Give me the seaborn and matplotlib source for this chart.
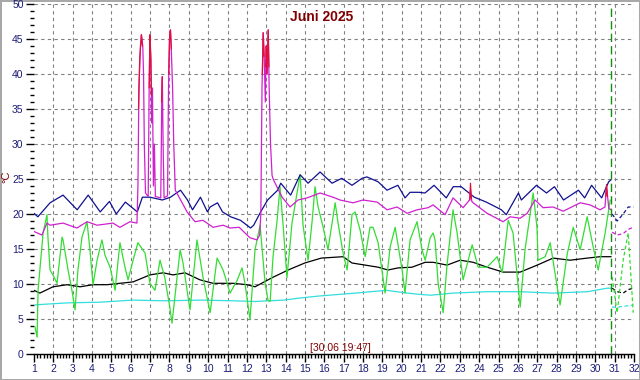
import matplotlib
matplotlib.use("Agg")
import matplotlib.pyplot as plt
import seaborn as sns
import pandas as pd
import numpy as np
from matplotlib.ticker import MultipleLocator

# measured values, day of month (1.0 = 1 June 00:00), degrees C
blue_day = [1.0, 1.2, 1.83, 2.5, 3.23, 3.8, 4.42, 4.9, 5.25, 5.72, 6.34, 6.6, 7.0, 7.63, 8.05, 8.57, 8.93,
            9.19, 9.6, 9.96, 10.1, 10.48, 10.74, 11.16, 11.67, 12.19, 12.35, 12.71, 13.07, 13.59, 13.75, 14.26,
            14.75, 15.16, 15.78, 16.4, 16.9, 17.43, 17.95, 18.2, 18.78, 19.24, 19.8, 20.17, 20.43, 20.9, 21.2,
            21.67, 22.3, 22.66, 23.07, 23.75, 24.37, 25.15, 25.4, 26.03, 26.18, 26.96, 27.48, 27.89, 28.36,
            29.13, 29.45, 29.81, 30.33, 30.69, 30.82]
blue_temp = [20.1, 19.6, 21.6, 22.7, 20.6, 22.7, 20.3, 21.8, 20.0, 21.7, 20.3, 22.4, 22.4, 22.0, 22.4, 23.4, 22.0,
             20.6, 22.4, 20.3, 21.0, 21.6, 20.3, 19.6, 19.1, 18.0, 18.4, 20.3, 22.0, 23.4, 24.4, 22.7,
             25.6, 24.4, 26.0, 24.4, 25.1, 24.1, 25.1, 25.3, 24.6, 23.4, 24.1, 22.3, 23.1, 23.1, 23.0,
             24.1, 22.3, 23.9, 23.9, 22.4, 21.7, 20.6, 19.9, 23.0, 22.0, 24.1, 23.0, 23.9, 22.0,
             23.4, 22.3, 24.1, 22.3, 24.6, 24.9]

magenta_day = [1.0, 1.41, 1.67, 1.83, 2.5, 3.22, 3.74, 4.26, 5.08, 5.44, 5.96, 6.32,
               6.37, 6.42, 6.5, 6.55, 6.62, 6.66, 6.7, 6.76,
               6.9, 6.95, 6.99, 7.04, 7.08, 7.12, 7.17, 7.22, 7.27,
               7.55, 7.6, 7.63, 7.67, 7.72,
               7.9, 7.95, 8.0, 8.05, 8.1, 8.16, 8.22, 8.3,
               8.91, 9.32, 9.73, 10.25, 10.77, 11.13, 11.6, 12.16, 12.52, 12.66,
               12.72, 12.78, 12.84, 12.9, 12.95, 13.0, 13.04, 13.1, 13.15, 13.22, 13.3, 13.37,
               13.82, 14.23, 14.64, 15.11, 15.78, 16.45, 16.81, 17.49, 18.0, 18.73, 19.24, 19.76, 20.28,
               20.79, 21.36, 21.62, 22.24, 22.65, 23.17, 23.5, 23.55, 23.62, 23.69, 24.41, 25.24, 25.6,
               26.12, 26.48, 26.89, 27.3, 27.82, 28.34, 29.22, 29.73, 30.25, 30.5, 30.58, 30.7, 30.82]
magenta_temp = [17.5, 17.0, 18.7, 18.4, 18.7, 18.0, 18.9, 18.4, 18.7, 18.1, 18.9, 18.7,
                24.0, 38.0, 44.0, 45.6, 44.0, 40.0, 30.0, 23.0,
                22.5, 38.0, 45.6, 42.0, 33.0, 38.0, 24.0, 30.0, 22.5,
                22.3, 36.0, 39.6, 30.0, 22.3,
                22.6, 38.0, 45.0, 46.3, 43.0, 38.0, 30.0, 23.4,
                20.3, 18.9, 19.1, 18.1, 18.4, 18.0, 18.1, 16.6, 16.3, 17.0,
                20.0, 38.0, 45.9, 42.0, 36.0, 44.0, 40.0, 46.3, 38.0, 30.0, 25.5, 24.9,
                22.4, 21.0, 22.0, 22.3, 23.0, 22.4, 22.0, 21.6, 22.0, 21.7, 20.6, 21.0, 20.1,
                20.6, 20.9, 21.3, 19.9, 22.3, 20.9, 22.0, 23.4, 21.8, 21.6, 20.1, 18.9, 19.6,
                19.4, 20.1, 22.0, 20.9, 21.0, 20.4, 21.6, 21.3, 20.6, 21.0, 23.9, 20.8, 20.6]

# red max readings, only where they show above the magenta line
red_day = [6.4, 6.46, 6.52, 6.55, 6.6, 6.95, 6.99, 7.03, 7.07, 7.59, 7.63, 7.96, 8.01, 8.05, 8.1,
           12.8, 12.84, 12.89, 12.97, 13.0, 13.04, 13.1, 13.14, 23.52, 23.55, 23.6, 30.54, 30.58, 30.63]
red_temp = [35.0, 42.0, 44.5, 45.6, 44.0, 38.0, 45.6, 42.5, 37.0, 36.0, 39.6, 40.0, 45.5, 46.3, 43.5,
            40.0, 45.9, 42.5, 41.0, 44.0, 40.0, 46.3, 41.0, 22.0, 24.4, 22.2, 22.5, 24.2, 22.5]
red_seg = [0, 0, 0, 0, 0, 1, 1, 1, 1, 2, 2, 3, 3, 3, 3,
           4, 4, 4, 5, 5, 5, 5, 5, 6, 6, 6, 7, 7, 7]

green_day = [1.05, 1.16, 1.21, 1.47, 1.67, 1.72, 1.83, 1.98, 2.19, 2.45, 2.5, 2.76, 2.96, 3.12, 3.27, 3.48,
             3.74, 3.89, 4.05, 4.26, 4.51, 4.67, 4.93, 5.19, 5.44, 5.7, 5.86, 6.12, 6.37, 6.74, 6.99, 7.25,
             7.51, 7.75, 8.0, 8.13, 8.55, 8.7, 9.06, 9.42, 9.73, 10.1, 10.46, 10.77, 11.13, 11.49, 11.75,
             11.9, 12.16, 12.42, 12.68, 12.94, 13.09, 13.2, 13.35, 13.56, 13.71, 13.87, 14.07, 14.33, 14.59,
             14.75, 14.9, 15.16, 15.37, 15.52, 15.68, 15.94, 16.19, 16.56, 16.71, 16.97, 17.18, 17.43, 17.59,
             17.85, 18.11, 18.36, 18.52, 18.78, 19.14, 19.4, 19.66, 20.02, 20.17, 20.43, 20.79, 21.05, 21.21,
             21.47, 21.62, 21.72, 21.88, 22.14, 22.34, 22.65, 22.86, 23.17, 23.64, 23.95, 24.41, 24.93,
             25.19, 25.5, 25.75, 26.12, 26.37, 26.79, 26.99, 27.04, 27.41, 27.67, 28.18, 28.55, 28.86,
             29.22, 29.58, 29.89, 30.15, 30.51, 30.77]
green_temp = [3.9, 2.4, 9.1, 17.3, 19.9, 16.7, 12.0, 11.3, 10.1, 16.7, 16.3, 12.0, 9.1, 6.3, 12.0, 16.7,
              18.9, 14.9, 9.9, 13.4, 16.3, 14.1, 12.4, 9.1, 15.9, 12.4, 10.6, 13.4, 15.9, 14.4, 10.1, 9.1,
              13.4, 11.0, 7.0, 4.4, 14.9, 13.0, 6.3, 16.3, 11.0, 5.9, 13.7, 12.0, 8.7, 10.5, 12.3,
              10.1, 4.9, 14.9, 18.4, 10.1, 7.7, 7.5, 13.9, 19.1, 23.9, 18.4, 10.9, 18.7, 23.0,
              25.6, 18.4, 13.4, 19.0, 23.9, 21.0, 18.1, 14.9, 21.6, 18.7, 14.4, 12.0, 19.9, 20.3,
              17.7, 13.9, 18.1, 18.1, 15.9, 8.7, 15.3, 18.1, 12.0, 8.7, 16.3, 18.9, 14.9, 13.4,
              16.6, 17.3, 16.3, 10.1, 5.9, 12.7, 20.6, 17.3, 10.6, 15.6, 12.4, 12.4, 13.9,
              11.6, 19.1, 17.3, 6.7, 14.9, 23.0, 18.0, 13.4, 13.9, 15.9, 7.0, 14.3, 18.1,
              14.9, 19.6, 15.3, 12.0, 17.3, 22.0]

black_day = [1.0, 1.3, 1.98, 2.71, 3.38, 4.05, 4.78, 5.44, 6.12, 6.99, 7.67, 8.18, 8.8, 9.57, 10.25,
             11.28, 12.0, 12.42, 13.3, 14.13, 14.99, 15.84, 16.97, 17.43, 18.11, 18.78, 19.29, 19.81, 20.53,
             21.21, 21.62, 22.34, 23.02, 23.69, 24.41, 25.24, 26.12, 27.0, 27.82, 28.7, 29.58, 30.25, 30.82]
black_temp = [9.1, 8.7, 9.6, 9.9, 9.6, 9.9, 9.9, 10.1, 10.3, 11.3, 11.6, 11.3, 11.6, 10.6, 10.1,
              10.1, 9.9, 9.6, 10.9, 12.0, 13.0, 13.7, 13.9, 13.0, 12.7, 12.4, 12.0, 12.3, 12.4,
              13.1, 13.1, 12.7, 13.4, 13.1, 12.4, 11.7, 11.7, 12.7, 13.7, 13.4, 13.7, 13.9, 13.9]

cyan_day = [1.0, 1.5, 2.7, 4.4, 6.1, 7.8, 9.6, 11.3, 12.4, 13.9, 14.75, 15.8, 16.7, 17.6, 18.4, 19.2,
            20.3, 21.0, 21.5, 22.65, 24.4, 26.1, 27.8, 29.6, 30.6, 30.82]
cyan_temp = [7.0, 7.1, 7.3, 7.4, 7.7, 7.6, 7.7, 7.6, 7.5, 7.7, 8.0, 8.3, 8.5, 8.7, 8.9, 9.1,
             8.7, 8.5, 8.4, 8.7, 8.9, 8.9, 8.7, 8.9, 9.4, 9.4]

# forecast part after the current time
fc_day = [30.87, 31.13, 31.44, 31.7, 31.96]
fc_blue = [20.0, 19.0, 20.0, 21.0, 21.0]
fc_magenta = [17.4, 17.0, 17.2, 17.8, 18.1]
fc_green = [11.0, 5.9, 13.4, 17.3, 5.9]
fc_black = [9.4, 8.9, 8.7, 9.2, 9.4]
fc_cyan = [6.7, 6.7, 6.8, 6.9, 7.0]

month_title = 'Juni 2025'
stamp = '[30.06 19:47]'
now_day = 30 + (19 + 47 / 60) / 24

red_df = pd.DataFrame({'day': red_day, 'temp': red_temp, 'seg': red_seg})

sns.set_style("white")
plt.rcParams['font.family'] = ['Liberation Sans', 'DejaVu Sans']

fig = plt.figure(figsize=(6.4, 3.8), dpi=100, facecolor='white', edgecolor='#a8a8a8', linewidth=2)
ax = fig.add_axes([34 / 640, 26 / 380, 600 / 640, 350 / 380])

lw = 0.9
series = [
    (cyan_day, cyan_temp, fc_cyan, '#33dddd'),
    (black_day, black_temp, fc_black, '#000000'),
    (green_day, green_temp, fc_green, '#33dd33'),
    (blue_day, blue_temp, fc_blue, '#101090'),
    (magenta_day, magenta_temp, fc_magenta, '#d020d0'),
]
for d, t, fc, c in series:
    sns.lineplot(x=d, y=t, color=c, linewidth=lw, estimator=None, ax=ax)
    sns.lineplot(x=fc_day, y=fc, color=c, linewidth=lw, linestyle=(0, (3, 2)), estimator=None, ax=ax)

sns.lineplot(data=red_df, x='day', y='temp', units='seg', estimator=None,
             color='#e0103a', linewidth=lw, ax=ax)

# current time marker
ax.axvline(now_day, color='#109010', linestyle=(0, (6, 3)), linewidth=1)

ax.set_xlim(1, 32)
ax.set_ylim(0, 50)
ax.set_xticks(range(1, 33))
ax.xaxis.set_minor_locator(MultipleLocator(1 / 6))
ax.yaxis.set_major_locator(MultipleLocator(5))
ax.yaxis.set_minor_locator(MultipleLocator(1))

ax.tick_params(axis='x', which='major', direction='out', length=6, width=1, color='black',
               labelcolor='#1c1c78', labelsize=7.5, pad=1.5, bottom=True)
ax.tick_params(axis='x', which='minor', direction='out', length=3, width=1, color='black', bottom=True)
ax.tick_params(axis='y', which='major', direction='out', length=6, width=1, color='black',
               labelcolor='#1c1c78', labelsize=7.5, pad=1.5, left=True)
ax.tick_params(axis='y', which='minor', direction='out', length=3, width=1, color='black', left=True)

for s in ['left', 'top', 'right']:
    ax.spines[s].set_visible(False)
ax.spines['bottom'].set_color('black')
ax.spines['bottom'].set_linewidth(1)

ax.grid(True, which='major', color='#808080', linestyle=(0, (3, 3)), linewidth=0.8)
ax.xaxis.get_gridlines()[0].set_visible(False)
ax.set_axisbelow(True)

ax.set_xlabel('')
ax.set_ylabel('')
fig.text(0.0105, 0.535, '°C', rotation=90, ha='center', va='center', fontsize=8, color='#800000')
ax.text(0.48, 0.963, month_title, transform=ax.transAxes, ha='center', va='center',
        fontsize=10, fontweight='bold', color='#800000')
ax.text(0.51, 0.017, stamp, transform=ax.transAxes, ha='center', va='center',
        fontsize=7.5, color='#800000')

fig.savefig('out.png', dpi=100, facecolor=fig.get_facecolor(), edgecolor=fig.get_edgecolor())
